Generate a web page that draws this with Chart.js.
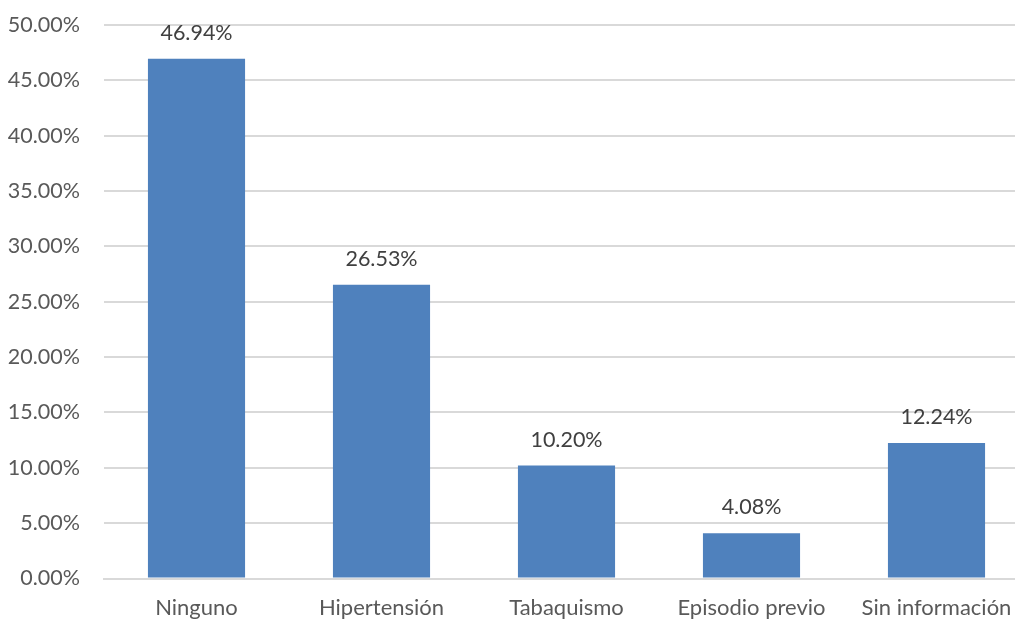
<!DOCTYPE html>
<html>
<head>
<meta charset="utf-8">
<script src="https://cdn.jsdelivr.net/npm/chart.js@4/dist/chart.umd.min.js"></script>
<style>
  html, body { margin: 0; padding: 0; background: #ffffff; overflow: hidden; }
  #wrap { position: relative; width: 1029px; height: 622px; }
</style>
</head>
<body>
<div id="wrap"><canvas id="chart"></canvas></div>
<script>
// Factores de riesgo (% de pacientes)
const categories = ['Ninguno', 'Hipertensión', 'Tabaquismo', 'Episodio previo', 'Sin información'];
const percentages = [46.94, 26.53, 10.20, 4.08, 12.24];
const yTicks = [0, 5, 10, 15, 20, 25, 30, 35, 40, 45, 50];

const FONT = 'Lato, "Open Sans", sans-serif';

// Writes each bar's value above it
const valueLabels = {
  id: 'valueLabels',
  afterDatasetsDraw(chart) {
    const ctx = chart.ctx;
    const meta = chart.getDatasetMeta(0);
    const data = chart.data.datasets[0].data;
    ctx.save();
    ctx.font = '21.5px ' + FONT;
    ctx.fillStyle = '#404040';
    ctx.textAlign = 'center';
    ctx.textBaseline = 'middle';
    meta.data.forEach((bar, i) => {
      ctx.fillText(data[i].toFixed(2) + '%', bar.x, bar.y - 26);
    });
    ctx.restore();
  }
};

new Chart(document.getElementById('chart'), {
  type: 'bar',
  data: {
    labels: categories,
    datasets: [{
      data: percentages,
      backgroundColor: '#4f81bd',
      borderWidth: 0,
      categoryPercentage: 0.525,
      barPercentage: 1
    }]
  },
  options: {
    responsive: true,
    maintainAspectRatio: false,
    animation: false,
    layout: { padding: { top: 25, right: 0, bottom: 0, left: 0 } },
    plugins: {
      legend: { display: false },
      tooltip: { enabled: false }
    },
    scales: {
      x: {
        grid: { display: false, drawTicks: false },
        border: { display: true, color: '#d9d9d9', width: 2 },
        ticks: {
          color: '#595959',
          font: { family: FONT, size: 22 },
          padding: 16,
          maxRotation: 0,
          autoSkip: false
        },
        afterFit(scale) { scale.height = 43.5; }
      },
      y: {
        min: 0,
        max: 50,
        afterBuildTicks(scale) { scale.ticks = yTicks.map(v => ({ value: v })); },
        grid: { color: '#d9d9d9', lineWidth: 2, drawTicks: false },
        border: { display: false },
        ticks: {
          color: '#595959',
          font: { family: FONT, size: 21.5 },
          padding: 24,
          callback: v => Number(v).toFixed(2) + '%'
        },
        afterFit(scale) {
          scale.width = 104;
          scale.paddingTop = 0;
          scale.paddingBottom = 0;
        }
      }
    }
  },
  plugins: [valueLabels]
});
</script>
</body>
</html>
